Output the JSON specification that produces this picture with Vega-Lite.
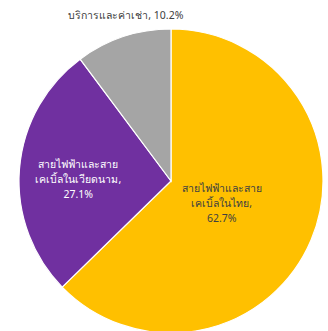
{
  "$schema": "https://vega.github.io/schema/vega-lite/v6.json",
  "width": 314,
  "height": 300,
  "autosize": "none",
  "padding": {"left": 14, "top": 31, "right": 0, "bottom": 0},
  "background": "white",
  "view": {"stroke": null},
  "data": {
    "values": [
      {"rank": 1, "cat": "ไทย", "value": 62.7, "label": "สายไฟฟ้าและสาย\nเคเบิ้ลในไทย,\n62.7%"},
      {"rank": 2, "cat": "เวียดนาม", "value": 27.1, "label": "สายไฟฟ้าและสาย\nเคเบิ้ลในเวียดนาม,\n27.1%"},
      {"rank": 3, "cat": "บริการ", "value": 10.2, "label": "บริการและค่าเช่า, 10.2%"}
    ]
  },
  "encoding": {
    "theta": {"field": "value", "type": "quantitative", "stack": true},
    "order": {"field": "rank", "type": "quantitative"}
  },
  "layer": [
    {
      "mark": {"type": "arc", "outerRadius": 152, "stroke": "white", "strokeWidth": 1.2},
      "encoding": {
        "color": {
          "field": "cat",
          "type": "nominal",
          "scale": {"domain": ["ไทย", "เวียดนาม", "บริการ"], "range": ["#FFC000", "#7030A0", "#A5A5A5"]},
          "legend": null
        }
      }
    },
    {
      "mark": {"type": "text", "radius": 55, "dy": -13, "fontSize": 10.5, "font": "Noto Sans", "lineBreak": "\n", "lineHeight": 15, "fill": "#404040", "align": "center", "baseline": "middle"},
      "encoding": {
        "text": {"condition": {"test": "datum.rank == 1", "field": "label"}, "value": ""}
      }
    },
    {
      "mark": {"type": "text", "radius": 93, "dy": -9, "fontSize": 10.5, "font": "Noto Sans", "lineBreak": "\n", "lineHeight": 15, "fill": "white", "align": "center", "baseline": "middle"},
      "encoding": {
        "text": {"condition": {"test": "datum.rank == 3 - 1", "field": "label"}, "value": ""}
      }
    },
    {
      "mark": {"type": "text", "radius": 172, "dx": 9, "dy": -2, "fontSize": 10.5, "font": "Noto Sans", "fill": "#404040", "align": "center", "baseline": "middle"},
      "encoding": {
        "text": {"condition": {"test": "datum.rank == 3", "field": "label"}, "value": ""}
      }
    }
  ]
}
